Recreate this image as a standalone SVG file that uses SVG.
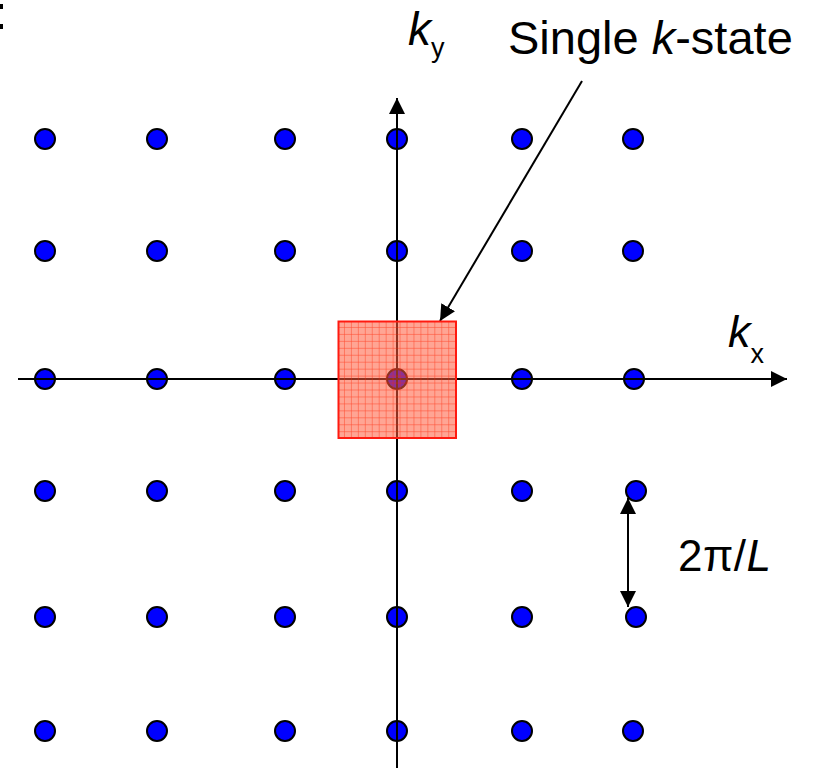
<svg xmlns="http://www.w3.org/2000/svg" width="815" height="768" viewBox="0 0 815 768">
<style>
.dot{fill:#0000ff;stroke:#000;stroke-width:2}
.axis{stroke:#000;stroke-width:2;fill:none}
.lbl{font-family:"Liberation Sans",Arial,sans-serif;fill:#000}
.it{font-style:italic}
</style>
<defs>
<marker id="ah" markerUnits="userSpaceOnUse" markerWidth="18" markerHeight="16" refX="16" refY="8" orient="auto">
<path d="M0,0 L16,8 L0,16 Z" fill="#000"/>
</marker>
<marker id="ah2" markerUnits="userSpaceOnUse" markerWidth="18" markerHeight="16" refX="16" refY="8" orient="auto-start-reverse">
<path d="M0,0 L16,8 L0,16 Z" fill="#000"/>
</marker>
<pattern id="grid" x="338" y="321" width="6.95" height="6.95" patternUnits="userSpaceOnUse">
<rect width="6.95" height="6.95" fill="#ff5a3c" fill-opacity="0.55"/>
<path d="M6.95 0V6.95M0 6.95H6.95" stroke="#ff2000" stroke-opacity="0.7" stroke-width="1"/>
</pattern>
</defs>
<rect x="0" y="4" width="3" height="5" fill="#000"/>
<rect x="0" y="24" width="3" height="5" fill="#000"/>
<g id="dots">
<g id="r1"><circle class="dot" cx="45" cy="139" r="10"/><circle class="dot" cx="157" cy="139" r="10"/><circle class="dot" cx="285" cy="139" r="10"/><circle class="dot" cx="397" cy="139" r="10"/><circle class="dot" cx="522" cy="139" r="10"/><circle class="dot" cx="633" cy="139" r="10"/></g>
<g id="r2"><circle class="dot" cx="45" cy="251" r="10"/><circle class="dot" cx="157" cy="251" r="10"/><circle class="dot" cx="285" cy="251" r="10"/><circle class="dot" cx="397" cy="251" r="10"/><circle class="dot" cx="522" cy="251" r="10"/><circle class="dot" cx="633" cy="251" r="10"/></g>
<g id="r3"><circle class="dot" cx="45" cy="379" r="10"/><circle class="dot" cx="157" cy="379" r="10"/><circle class="dot" cx="285" cy="379" r="10"/><circle class="dot" cx="397" cy="379" r="10"/><circle class="dot" cx="522" cy="379" r="10"/><circle class="dot" cx="634" cy="379" r="10"/></g>
<g id="r4"><circle class="dot" cx="45" cy="491" r="10"/><circle class="dot" cx="157" cy="491" r="10"/><circle class="dot" cx="285" cy="491" r="10"/><circle class="dot" cx="397" cy="491" r="10"/><circle class="dot" cx="522" cy="491" r="10"/><circle class="dot" cx="636" cy="491" r="10"/></g>
<g id="r5"><circle class="dot" cx="45" cy="617" r="10"/><circle class="dot" cx="157" cy="617" r="10"/><circle class="dot" cx="285" cy="617" r="10"/><circle class="dot" cx="397" cy="617" r="10"/><circle class="dot" cx="522" cy="617" r="10"/><circle class="dot" cx="636" cy="617" r="10"/></g>
<g id="r6"><circle class="dot" cx="45" cy="731" r="10"/><circle class="dot" cx="157" cy="731" r="10"/><circle class="dot" cx="285" cy="731" r="10"/><circle class="dot" cx="397" cy="731" r="10"/><circle class="dot" cx="522" cy="731" r="10"/><circle class="dot" cx="633" cy="731" r="10"/></g>
</g>
<g id="connectors">
<line class="axis" x1="18" y1="379" x2="787" y2="379" marker-end="url(#ah)"/>
<line class="axis" x1="397" y1="768" x2="397" y2="98" marker-end="url(#ah)"/>
<line class="axis" x1="628" y1="498" x2="628" y2="607" marker-start="url(#ah2)" marker-end="url(#ah2)"/>
<line class="axis" x1="582" y1="81" x2="440" y2="321" stroke-width="1.6" marker-end="url(#ah)"/>
</g>
<g id="kstate">
<rect x="338.5" y="321.5" width="117.5" height="116.5" fill="url(#grid)" stroke="#ff1a10" stroke-width="2"/>
</g>
<g id="labels">
<text class="lbl" x="508" y="54" font-size="47">Single <tspan class="it">k</tspan>-state</text>
<text class="lbl" x="408" y="45" font-size="46"><tspan class="it">k</tspan><tspan font-size="27" dy="12">y</tspan></text>
<text class="lbl" x="728" y="347" font-size="45"><tspan class="it">k</tspan><tspan font-size="27" dy="16">x</tspan></text>
<text class="lbl" x="678" y="571" font-size="44" textLength="93" lengthAdjust="spacing">2π/<tspan class="it">L</tspan></text>
</g>
</svg>
